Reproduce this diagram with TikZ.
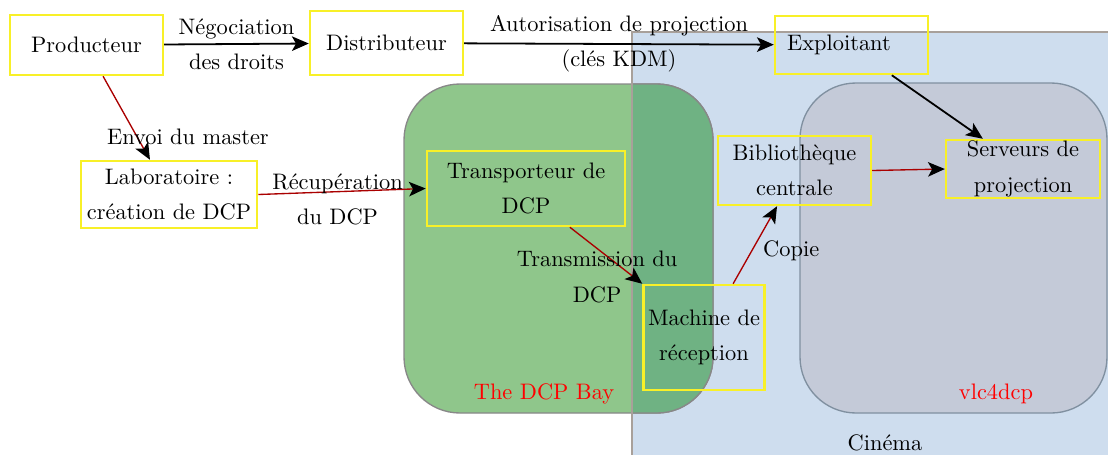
\documentclass[tikz,border=0pt]{standalone}
\usepackage{fontspec}
\usetikzlibrary{arrows.meta, positioning}

\definecolor{cinemablue}{RGB}{206,221,238}
\definecolor{cinemaline}{RGB}{168,160,154}
\definecolor{baygreen}{RGB}{143,198,139}
\definecolor{bayover}{RGB}{111,178,131}
\definecolor{bayline}{RGB}{136,136,136}
\definecolor{vlcgray}{RGB}{196,202,216}
\definecolor{vlcline}{RGB}{128,144,160}
\definecolor{boxyellow}{RGB}{248,240,40}
\definecolor{flowred}{RGB}{170,0,0}

\begin{document}
\begin{tikzpicture}[x=0.4464pt, y=-0.4464pt,
	box/.style={draw=boxyellow, line width=1.1pt, align=center, inner xsep=2pt, inner ysep=1pt,
		execute at begin node=\setlength{\baselineskip}{15.8pt}},
	lbl/.style={align=center, execute at begin node=\setlength{\baselineskip}{15.8pt}},
	deal/.style={draw=black, line width=0.8pt, -{Stealth[length=7.5pt, width=6.5pt, inset=1.8pt]}},
	flow/.style={draw=flowred, line width=0.6pt, -{Stealth[length=7.5pt, width=6.5pt, inset=1.8pt, color=black]}},
	zone/.style={rounded corners=25pt, line width=0.6pt},
	zonename/.style={text=red, anchor=base}]
	\useasboundingbox (0,0) rectangle (1108,454);
	\clip (0,0) rectangle (1108,454);

	% zones
	\fill[cinemablue] (632,32) rectangle (1130,480);
	\filldraw[zone, fill=baygreen, draw=bayline] (404,84) rectangle (713,413);
	\begin{scope}
		\clip (632,32) rectangle (1130,480);
		\filldraw[zone, fill=bayover, draw=bayline] (404,84) rectangle (713,413);
	\end{scope}
	\draw[cinemaline, line width=0.6pt] (632,480) -- (632,32) -- (1130,32);
	\filldraw[zone, fill=vlcgray, draw=vlcline] (800,83) rectangle (1107,413);
	\node[zonename] (bay) at (544,399) {The DCP Bay};
	\node[zonename] (vlc) at (996,399) {vlc4dcp};
	\node[anchor=base, inner sep=1pt] (cine) at (885,450) {Cinéma};

	% acteurs
	\node[box, minimum width=68.3pt, minimum height=26.8pt] (prod) at (86.5,45) {Producteur};
	\node[box, minimum width=68.3pt, minimum height=28.6pt] (distr) at (386.5,43) {Distributeur};
	\node[box, align=left, text width=57.5pt, inner xsep=5.4pt, minimum height=25.9pt] (explo) at (851.5,45) {Exploitant};
	\node[box, minimum width=78.6pt, minimum height=29.9pt] (labo) at (169,194.5) {Laboratoire :\\création de DCP};
	\node[box, minimum width=88.4pt, minimum height=33.5pt] (transp) at (526,188.5) {Transporteur de\\DCP};
	\node[box, minimum width=53.6pt, minimum height=46.9pt] (mach) at (704,337.5) {Machine de\\réception};
	\node[box, minimum width=68.3pt, minimum height=30.8pt] (biblio) at (794.5,170.5) {Bibliothèque\\centrale};
	\node[box, inner ysep=0pt, minimum width=68.7pt, minimum height=25.9pt] (serv) at (1023,169) {Serveurs de\\projection};

	% flux
	\draw[deal] (prod) -- node[lbl] (negoc) {Négociation\\des droits} (distr);
	\draw[deal] (distr) -- node[lbl] (kdm) {Autorisation de projection\\(clés KDM)} (explo);
	\draw[deal] ([xshift=18pt]explo.south) -- ([xshift=-17.9pt]serv.north);
	\draw[flow] ([xshift=7.4pt]prod.south) -- node[pos=0.73, xshift=22.6pt] (envoi) {Envoi du master} ([xshift=-8.5pt]labo.north);
	\draw[flow] (labo.east) -- node[lbl, midway, xshift=-2pt, yshift=-3.5pt] (recup) {Récupération\\du DCP} (transp.west);
	\draw[flow] ([xshift=19.6pt]transp.south) -- node[lbl, midway, xshift=-4pt, yshift=-9.6pt] (transm) {Transmission du\\DCP} (mach.north west);
	\draw[flow] ([xshift=13pt]mach.north) -- node[midway, right, yshift=-2.5pt] (copie) {Copie} ([xshift=-7.8pt]biblio.south);
	\draw[flow] (biblio.east) -- (serv.west);
\end{tikzpicture}
\end{document}
